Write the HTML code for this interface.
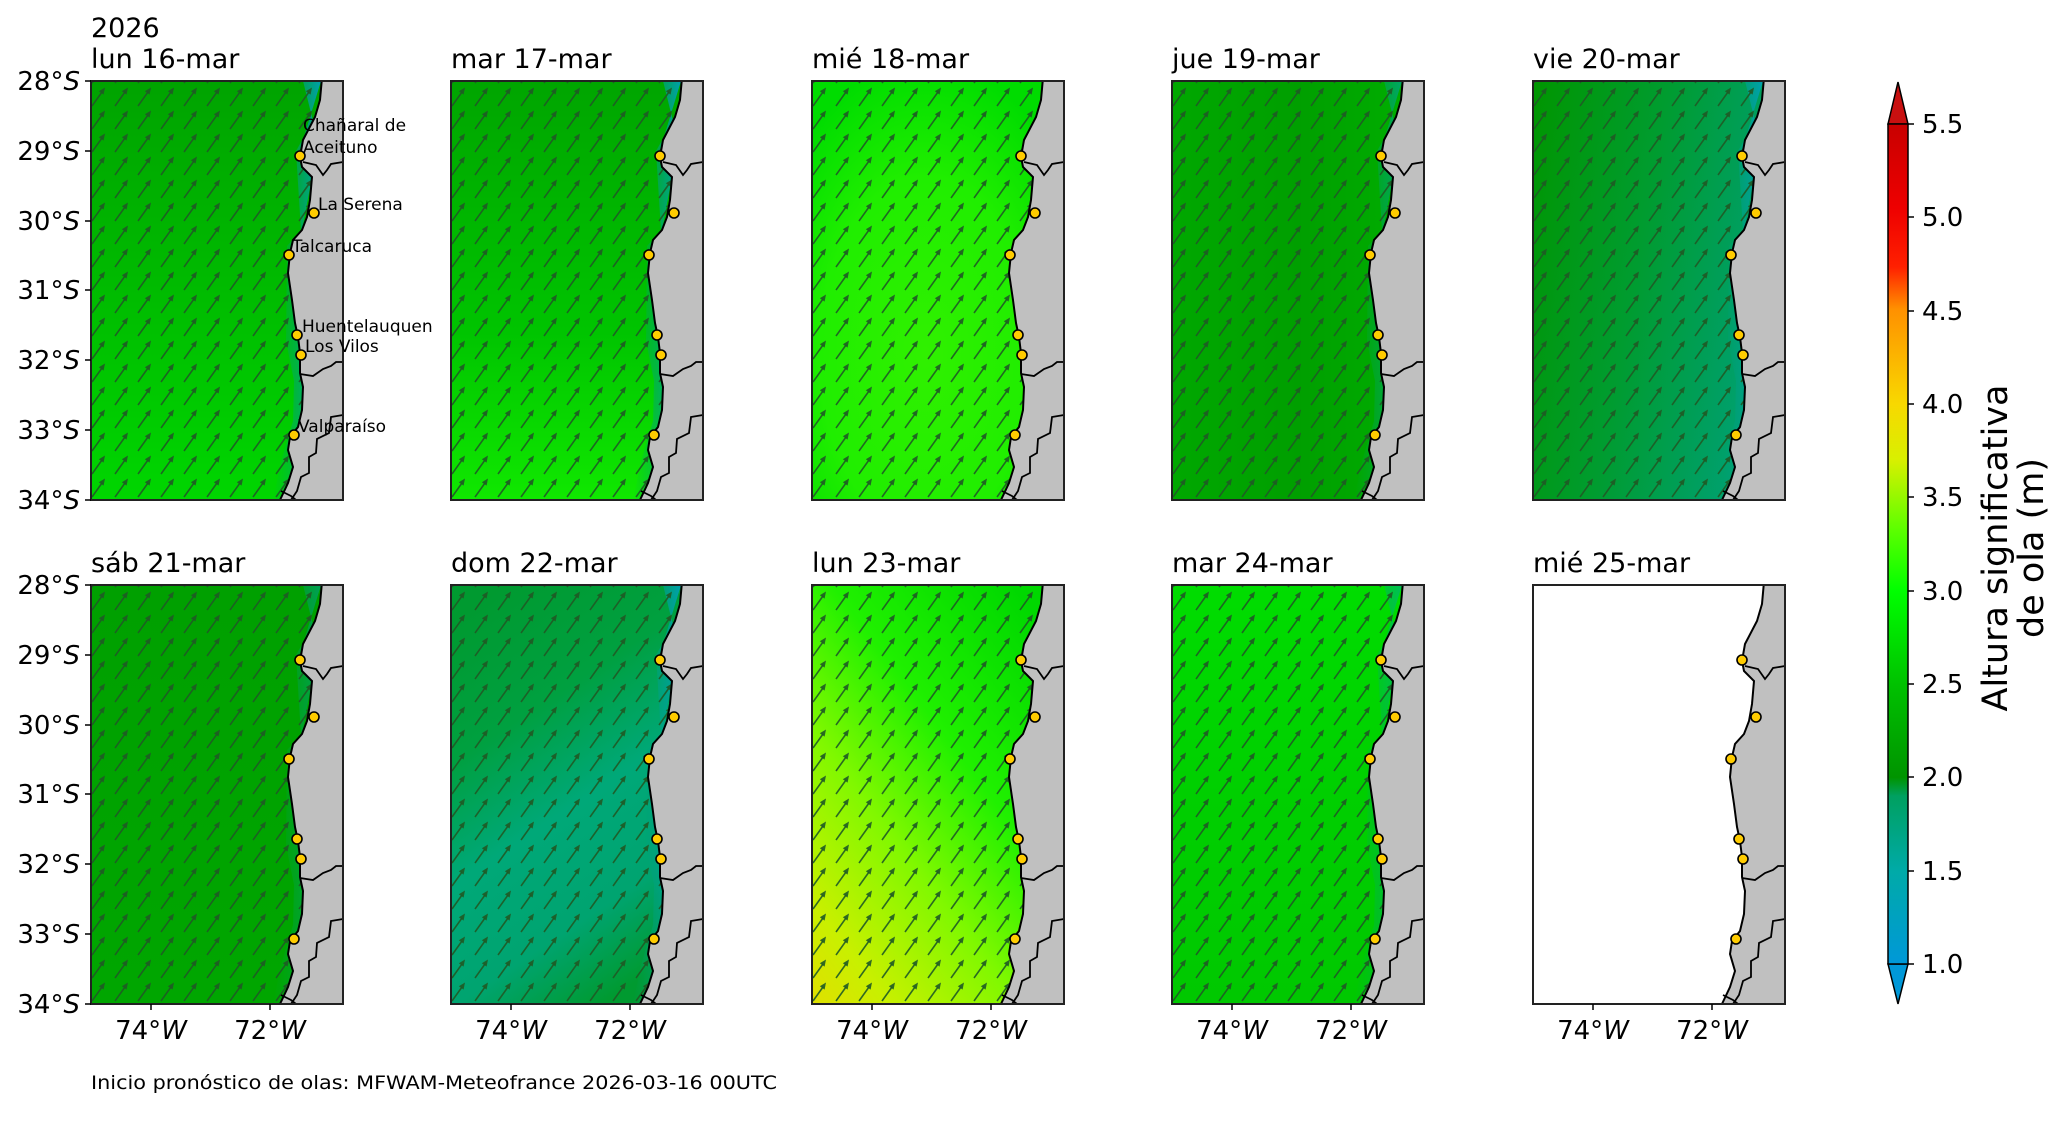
<!DOCTYPE html>
<html><head><meta charset="utf-8"><style>
html,body{margin:0;padding:0;background:#fff;}
svg{display:block;font-family:"DejaVu Sans","Liberation Sans",sans-serif;}
</style></head><body>
<svg width="2070" height="1128" viewBox="0 0 2070 1128" xmlns="http://www.w3.org/2000/svg">
<defs>
<pattern id="arr" width="23" height="23" patternUnits="userSpaceOnUse" x="0" y="4">
<line x1="1" y1="21" x2="11" y2="7" stroke="#1f5a25" stroke-width="1.6" stroke-opacity="0.9"/>
<polygon points="14,2.5 12.6,9.6 7.8,6.2" fill="#1f5a25" fill-opacity="0.9"/>
</pattern>
<g id="coast">
<polygon fill="#c0c0c0" stroke="#000" stroke-width="2" points="230.7,0 229,19 224,36 212,59 209,76 211,86 221,96 219,119 216,136 211,149 202,159 199,172 197,192 201,219 204,242 207,256 209,272 209,292 212,306 211,329 207,346 199,356 197,369 202,386 197,402 189,419 252,419 252,0"/>
<polyline fill="none" stroke="#000" stroke-width="1.8" points="212,81 225,84 232,94 236,89 240,83 252,81"/>
<polyline fill="none" stroke="#000" stroke-width="1.8" points="209,293 222,295 232,288 240,285 245,281 252,281"/>
<polyline fill="none" stroke="#000" stroke-width="1.8" points="252,334 240,336 238,352 226,358 225,372 218,376 218,392 210,396 206,410 200,419"/>
<polyline fill="none" stroke="#000" stroke-width="1.8" points="190,410 200,415 205,419"/>
<g fill="#ffcc00" stroke="#000" stroke-width="1.6">
<circle cx="209" cy="75" r="5"/><circle cx="223" cy="132" r="5"/><circle cx="198" cy="174" r="5"/>
<circle cx="206" cy="254" r="5"/><circle cx="210" cy="274" r="5"/><circle cx="203" cy="354" r="5"/>
</g>
</g>
<linearGradient id="band" x1="0" y1="0" x2="1" y2="0"><stop offset="0" stop-color="#00a060" stop-opacity="0"/><stop offset="1" stop-color="#00a0b0"/></linearGradient>
<polygon id="bandp" fill="url(#band)" points="212,0 222,40 205,70 210,150 196,165 195,260 203,300 202,340 190,380 182,419 200,419 205,380 212,306 209,272 204,242 197,192 199,172 211,149 221,96 212,59 230,0"/>
<linearGradient id="g1" x1="0" y1="0" x2="0" y2="1"><stop offset="0" stop-color="#00a300"/><stop offset="0.5" stop-color="#00bb00"/><stop offset="1" stop-color="#00d600"/></linearGradient>
<linearGradient id="g2" x1="0" y1="0" x2="0" y2="1"><stop offset="0" stop-color="#00a500"/><stop offset="0.6" stop-color="#00c400"/><stop offset="1" stop-color="#10e800"/></linearGradient>
<radialGradient id="g3" cx="0.45" cy="0.65" r="0.7"><stop offset="0" stop-color="#30f000"/><stop offset="0.6" stop-color="#20ee00"/><stop offset="1" stop-color="#00dc00"/></radialGradient>
<linearGradient id="g4" x1="0" y1="0" x2="1" y2="0"><stop offset="0" stop-color="#00a800"/><stop offset="0.5" stop-color="#009f00"/><stop offset="1" stop-color="#00b000"/></linearGradient>
<linearGradient id="g5" x1="0" y1="0" x2="1" y2="0.3"><stop offset="0" stop-color="#009600"/><stop offset="0.5" stop-color="#009c30"/><stop offset="1" stop-color="#00a070"/></linearGradient>
<linearGradient id="g6" x1="0" y1="0" x2="0" y2="1"><stop offset="0" stop-color="#00a000"/><stop offset="1" stop-color="#00a600"/></linearGradient>
<linearGradient id="g7" x1="0.2" y1="0" x2="0.6" y2="1"><stop offset="0" stop-color="#009a30"/><stop offset="0.3" stop-color="#00a040"/><stop offset="0.55" stop-color="#00a878"/><stop offset="0.8" stop-color="#00a470"/><stop offset="1" stop-color="#009a30"/></linearGradient>
<linearGradient id="g8" x1="0.8" y1="0" x2="0" y2="1"><stop offset="0" stop-color="#00d800"/><stop offset="0.35" stop-color="#20f000"/><stop offset="0.6" stop-color="#80f800"/><stop offset="0.85" stop-color="#c8f000"/><stop offset="1" stop-color="#e0e000"/></linearGradient>
<linearGradient id="g9" x1="0" y1="0" x2="0" y2="1"><stop offset="0" stop-color="#00dd00"/><stop offset="0.5" stop-color="#00cf00"/><stop offset="1" stop-color="#00c800"/></linearGradient>
<linearGradient id="cb" x1="0" y1="1" x2="0" y2="0">
<stop offset="0" stop-color="#0098d8"/><stop offset="0.11" stop-color="#00aaa8"/><stop offset="0.2" stop-color="#00a060"/><stop offset="0.222" stop-color="#009400"/><stop offset="0.33" stop-color="#00c000"/><stop offset="0.444" stop-color="#00ff00"/><stop offset="0.52" stop-color="#60ff00"/><stop offset="0.6" stop-color="#d8f000"/><stop offset="0.667" stop-color="#f8d800"/><stop offset="0.78" stop-color="#ff9000"/><stop offset="0.83" stop-color="#ff2000"/><stop offset="0.9" stop-color="#ee0000"/><stop offset="1" stop-color="#c80000"/>
</linearGradient>
</defs>

<g font-size="27" fill="#000">
<text x="91" y="37">2026</text>
<text x="91" y="68">lun 16-mar</text>
<text x="451" y="68">mar 17-mar</text>
<text x="812" y="68">mié 18-mar</text>
<text x="1172" y="68">jue 19-mar</text>
<text x="1533" y="68">vie 20-mar</text>
<text x="91" y="572">sáb 21-mar</text>
<text x="451" y="572">dom 22-mar</text>
<text x="812" y="572">lun 23-mar</text>
<text x="1172" y="572">mar 24-mar</text>
<text x="1533" y="572">mié 25-mar</text>
</g>

<g transform="translate(91,81)"><rect width="252" height="419" fill="url(#g1)"/><use href="#bandp"/><rect width="252" height="419" fill="url(#arr)"/><use href="#coast"/><rect width="252" height="419" fill="none" stroke="#222" stroke-width="2"/></g>
<g transform="translate(451,81)"><rect width="253" height="419" fill="url(#g2)"/><use href="#bandp"/><rect width="252" height="419" fill="url(#arr)"/><use href="#coast"/><rect width="252" height="419" fill="none" stroke="#222" stroke-width="2"/></g>
<g transform="translate(812,81)"><rect width="252" height="419" fill="url(#g3)"/><rect width="252" height="419" fill="url(#arr)"/><use href="#coast"/><rect width="252" height="419" fill="none" stroke="#222" stroke-width="2"/></g>
<g transform="translate(1172,81)"><rect width="252" height="419" fill="url(#g4)"/><use href="#bandp" opacity="0.6"/><rect width="252" height="419" fill="url(#arr)"/><use href="#coast"/><rect width="252" height="419" fill="none" stroke="#222" stroke-width="2"/></g>
<g transform="translate(1533,81)"><rect width="252" height="419" fill="url(#g5)"/><use href="#bandp"/><rect width="252" height="419" fill="url(#arr)"/><use href="#coast"/><rect width="252" height="419" fill="none" stroke="#222" stroke-width="2"/></g>
<g transform="translate(91,585)"><rect width="252" height="419" fill="url(#g6)"/><use href="#bandp" opacity="0.5"/><rect width="252" height="419" fill="url(#arr)"/><use href="#coast"/><rect width="252" height="419" fill="none" stroke="#222" stroke-width="2"/></g>
<g transform="translate(451,585)"><rect width="252" height="419" fill="url(#g7)"/><use href="#bandp"/><rect width="252" height="419" fill="url(#arr)"/><use href="#coast"/><rect width="252" height="419" fill="none" stroke="#222" stroke-width="2"/></g>
<g transform="translate(812,585)"><rect width="252" height="419" fill="url(#g8)"/><rect width="252" height="419" fill="url(#arr)"/><use href="#coast"/><rect width="252" height="419" fill="none" stroke="#222" stroke-width="2"/></g>
<g transform="translate(1172,585)"><rect width="252" height="419" fill="url(#g9)"/><use href="#bandp" opacity="0.5"/><rect width="252" height="419" fill="url(#arr)"/><use href="#coast"/><rect width="252" height="419" fill="none" stroke="#222" stroke-width="2"/></g>
<g transform="translate(1533,585)"><rect width="252" height="419" fill="#fff"/><use href="#coast"/><rect width="252" height="419" fill="none" stroke="#222" stroke-width="2"/></g>

<g font-size="17" fill="#000">
<text x="303" y="131">Chañaral de</text>
<text x="303" y="153">Aceituno</text>
<text x="318" y="210">La Serena</text>
<text x="292" y="252">Talcaruca</text>
<text x="302" y="332">Huentelauquen</text>
<text x="305" y="352">Los Vilos</text>
<text x="298" y="432">Valparaíso</text>
</g>

<g font-size="26" fill="#000" text-anchor="end">
<g stroke="#000" stroke-width="1.5">
<line x1="85" y1="81" x2="91" y2="81"/><line x1="85" y1="151" x2="91" y2="151"/><line x1="85" y1="221" x2="91" y2="221"/><line x1="85" y1="290" x2="91" y2="290"/><line x1="85" y1="360" x2="91" y2="360"/><line x1="85" y1="430" x2="91" y2="430"/><line x1="85" y1="500" x2="91" y2="500"/>
<line x1="85" y1="585" x2="91" y2="585"/><line x1="85" y1="655" x2="91" y2="655"/><line x1="85" y1="725" x2="91" y2="725"/><line x1="85" y1="794" x2="91" y2="794"/><line x1="85" y1="864" x2="91" y2="864"/><line x1="85" y1="934" x2="91" y2="934"/><line x1="85" y1="1004" x2="91" y2="1004"/>
</g>
<text x="80" y="90">28°<tspan font-style="italic">S</tspan></text>
<text x="80" y="160">29°<tspan font-style="italic">S</tspan></text>
<text x="80" y="230">30°<tspan font-style="italic">S</tspan></text>
<text x="80" y="299">31°<tspan font-style="italic">S</tspan></text>
<text x="80" y="369">32°<tspan font-style="italic">S</tspan></text>
<text x="80" y="439">33°<tspan font-style="italic">S</tspan></text>
<text x="80" y="509">34°<tspan font-style="italic">S</tspan></text>
<text x="80" y="594">28°<tspan font-style="italic">S</tspan></text>
<text x="80" y="664">29°<tspan font-style="italic">S</tspan></text>
<text x="80" y="734">30°<tspan font-style="italic">S</tspan></text>
<text x="80" y="803">31°<tspan font-style="italic">S</tspan></text>
<text x="80" y="873">32°<tspan font-style="italic">S</tspan></text>
<text x="80" y="943">33°<tspan font-style="italic">S</tspan></text>
<text x="80" y="1013">34°<tspan font-style="italic">S</tspan></text>
</g>

<g font-size="26" fill="#000" text-anchor="middle">
<g stroke="#000" stroke-width="1.5">
<line x1="151" y1="1004" x2="151" y2="1010"/><line x1="270" y1="1004" x2="270" y2="1010"/>
<line x1="511" y1="1004" x2="511" y2="1010"/><line x1="630" y1="1004" x2="630" y2="1010"/>
<line x1="872" y1="1004" x2="872" y2="1010"/><line x1="991" y1="1004" x2="991" y2="1010"/>
<line x1="1232" y1="1004" x2="1232" y2="1010"/><line x1="1351" y1="1004" x2="1351" y2="1010"/>
<line x1="1593" y1="1004" x2="1593" y2="1010"/><line x1="1712" y1="1004" x2="1712" y2="1010"/>
</g>
<text x="151" y="1039">74°<tspan font-style="italic">W</tspan></text><text x="270" y="1039">72°<tspan font-style="italic">W</tspan></text>
<text x="511" y="1039">74°<tspan font-style="italic">W</tspan></text><text x="630" y="1039">72°<tspan font-style="italic">W</tspan></text>
<text x="872" y="1039">74°<tspan font-style="italic">W</tspan></text><text x="991" y="1039">72°<tspan font-style="italic">W</tspan></text>
<text x="1232" y="1039">74°<tspan font-style="italic">W</tspan></text><text x="1351" y="1039">72°<tspan font-style="italic">W</tspan></text>
<text x="1593" y="1039">74°<tspan font-style="italic">W</tspan></text><text x="1712" y="1039">72°<tspan font-style="italic">W</tspan></text>
</g>

<text x="91" y="1089" font-size="19" textLength="686" lengthAdjust="spacingAndGlyphs">Inicio pronóstico de olas: MFWAM-Meteofrance 2026-03-16 00UTC</text>

<polygon points="1888,124 1898,82 1908,124" fill="#c81010" stroke="#000" stroke-width="1.5"/>
<polygon points="1888,964 1898,1004 1908,964" fill="#0098d8" stroke="#000" stroke-width="1.5"/>
<rect x="1888" y="124" width="20" height="840" fill="url(#cb)" stroke="#000" stroke-width="1.5"/>
<g stroke="#000" stroke-width="1.5">
<line x1="1908" y1="124" x2="1914" y2="124"/><line x1="1908" y1="217" x2="1914" y2="217"/><line x1="1908" y1="311" x2="1914" y2="311"/><line x1="1908" y1="404" x2="1914" y2="404"/><line x1="1908" y1="497" x2="1914" y2="497"/><line x1="1908" y1="591" x2="1914" y2="591"/><line x1="1908" y1="684" x2="1914" y2="684"/><line x1="1908" y1="777" x2="1914" y2="777"/><line x1="1908" y1="871" x2="1914" y2="871"/><line x1="1908" y1="964" x2="1914" y2="964"/>
</g>
<g font-size="26" fill="#000">
<text x="1922" y="133">5.5</text><text x="1922" y="226">5.0</text><text x="1922" y="320">4.5</text><text x="1922" y="413">4.0</text><text x="1922" y="506">3.5</text><text x="1922" y="600">3.0</text><text x="1922" y="693">2.5</text><text x="1922" y="786">2.0</text><text x="1922" y="880">1.5</text><text x="1922" y="973">1.0</text>
</g>
<g font-size="35" fill="#000" text-anchor="middle">
<text transform="translate(2007,548) rotate(-90)">Altura significativa</text>
<text transform="translate(2043,548) rotate(-90)">de ola (m)</text>
</g>
</svg>
</body></html>
